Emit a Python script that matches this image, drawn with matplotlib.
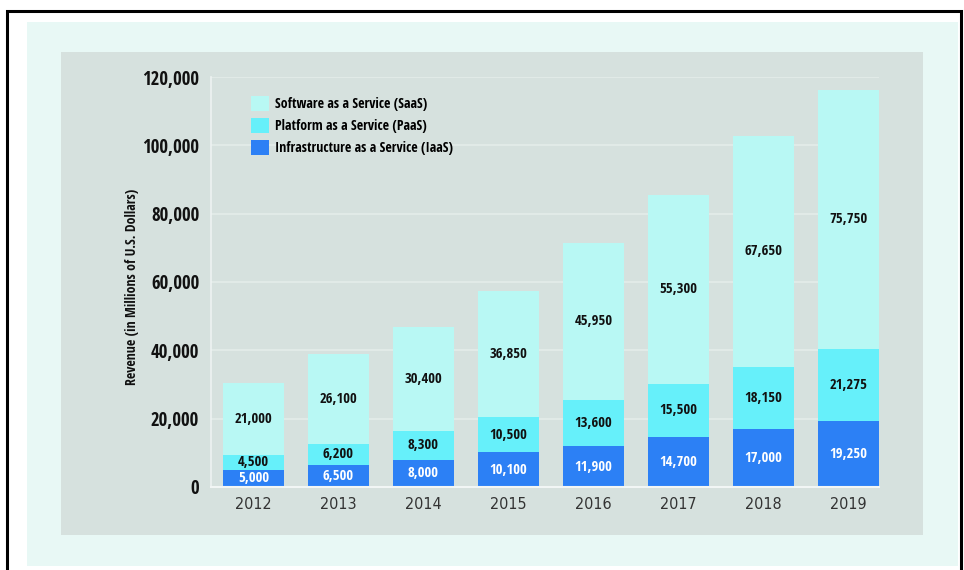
import numpy as np
import matplotlib.pyplot as plt
from matplotlib.patches import Rectangle

years = ['2012', '2013', '2014', '2015', '2016', '2017', '2018', '2019']
iaas = [5000, 6500, 8000, 10100, 11900, 14700, 17000, 19250]
paas = [4500, 6200, 8300, 10500, 13600, 15500, 18150, 21275]
saas = [21000, 26100, 30400, 36850, 45950, 55300, 67650, 75750]
yticks = [0, 20000, 40000, 60000, 80000, 100000, 120000]

plt.rcParams['font.family'] = ['DejaVu Sans']
plt.rcParams['font.stretch'] = 'condensed'
BOLD = ['Open Sans Condensed', 'DejaVu Sans']

W, H = 964, 570
fig = plt.figure(figsize=(W / 100, H / 100), dpi=100)
fig.patch.set_facecolor('white')

def box(x0, y0, x1, y1, **kw):
    # pixel coords, origin top-left
    fig.patches.append(Rectangle((x0 / W, 1 - y1 / H), (x1 - x0) / W, (y1 - y0) / H,
                                 transform=fig.transFigure, **kw))

box(7, 11, 961, 600, facecolor='none', edgecolor='black', linewidth=2.2, zorder=-10)
box(27, 22, 958, 566, facecolor='#e8f8f5', edgecolor='none', zorder=-10)
box(61, 52, 923, 535, facecolor='#d6e1de', edgecolor='none', zorder=-10)

ax = fig.add_axes([211 / W, 1 - 487 / H, (879 - 211) / W, (487 - 77) / H])
ax.set_facecolor('none')

c_saas = '#b8f8f4'
c_paas = '#66f0fa'
c_iaas = '#2c80f5'

x = np.arange(len(years))
w = 0.72
iaas = np.array(iaas)
paas = np.array(paas)
saas = np.array(saas)

b1 = ax.bar(x, iaas, w, color=c_iaas, label='Infrastructure as a Service (IaaS)', zorder=2)
b2 = ax.bar(x, paas, w, bottom=iaas, color=c_paas, label='Platform as a Service (PaaS)', zorder=2)
b3 = ax.bar(x, saas, w, bottom=iaas + paas, color=c_saas, label='Software as a Service (SaaS)', zorder=2)

lab = dict(ha='center', va='center', fontsize=10.5, fontweight='bold', family=BOLD, zorder=3)
for i in range(len(years)):
    ax.text(x[i], iaas[i] / 2, f'{iaas[i]:,}', color='white', **lab)
    ax.text(x[i], iaas[i] + paas[i] / 2, f'{paas[i]:,}', color='#111111', **lab)
    ax.text(x[i], iaas[i] + paas[i] + saas[i] / 2, f'{saas[i]:,}', color='#111111', **lab)

ax.set_xlim(-0.5, 7 + w / 2)
ax.set_ylim(0, 120000)
ax.set_yticks(yticks)
ax.set_yticklabels([f'{v:,}' for v in yticks], fontsize=13.5, fontweight='bold',
                   family=BOLD, color='#111111')
ax.set_xticks(x)
ax.set_xticklabels(years, fontsize=11.5, color='#333333')
ax.tick_params(length=0)
ax.tick_params(axis='y', pad=8.5)
ax.tick_params(axis='x', pad=7)
ax.grid(axis='y', color='#e4ecea', linewidth=1.2, zorder=1)
ax.set_axisbelow(True)
for s in ['top', 'right']:
    ax.spines[s].set_visible(False)
ax.spines['left'].set_color('#eef3f2')
ax.spines['bottom'].set_color('#f2f6f5')
ax.spines['left'].set_linewidth(1.2)
ax.spines['bottom'].set_linewidth(1.5)

ax.set_ylabel('Revenue (in Millions of U.S. Dollars)', fontsize=10, fontweight='bold',
              family=BOLD, color='#111111')
ax.yaxis.set_label_coords(-0.108, 0.488)

leg = ax.legend(handles=[b3, b2, b1], loc='upper left', bbox_to_anchor=(0.041, 0.985),
                frameon=False, handlelength=1.3, handleheight=1.3, handletextpad=0.45,
                labelspacing=0.5, prop={'weight': 'bold', 'size': 10, 'family': BOLD})

plt.savefig('out.png', dpi=100, facecolor=fig.get_facecolor())
